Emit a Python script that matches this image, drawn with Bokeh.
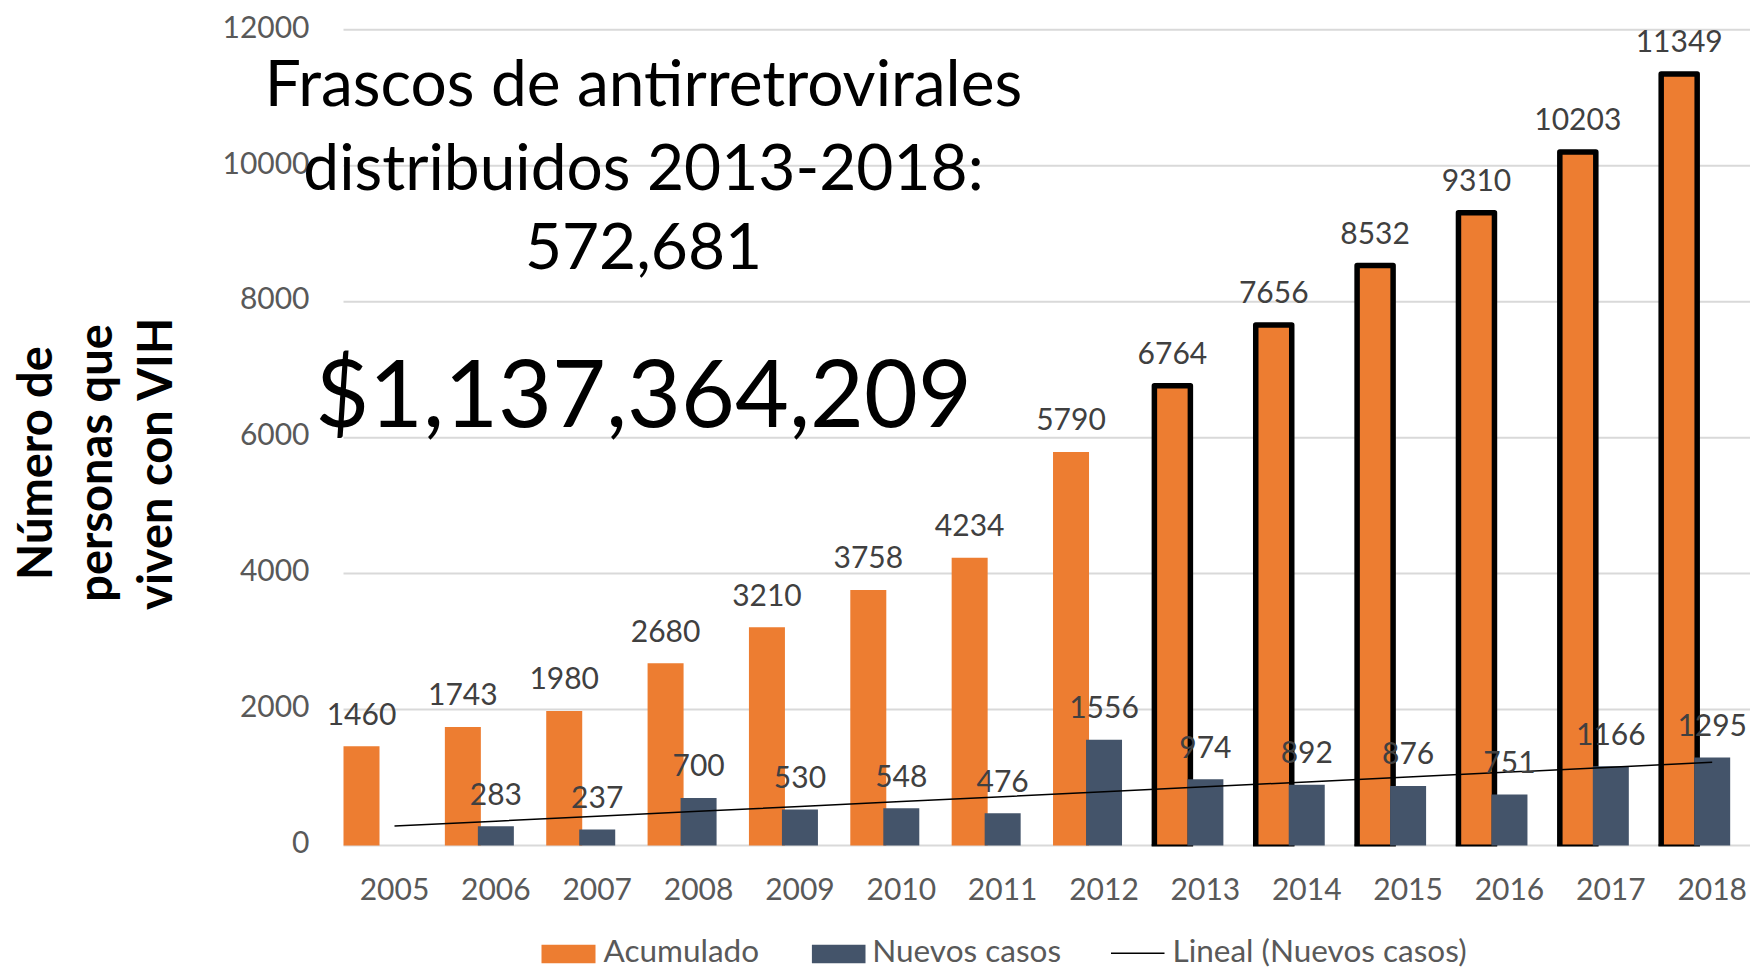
import numpy as np
from bokeh.plotting import figure
from bokeh.models import Range1d, ColumnDataSource
from bokeh.embed import file_html
from bokeh.resources import INLINE
from bokeh.core.properties import value

# ---------------- data ----------------
years = ["2005", "2006", "2007", "2008", "2009", "2010", "2011",
         "2012", "2013", "2014", "2015", "2016", "2017", "2018"]
acumulado = [1460, 1743, 1980, 2680, 3210, 3758, 4234,
             5790, 6764, 7656, 8532, 9310, 10203, 11349]
nuevos = [None, 283, 237, 700, 530, 548, 476,
          1556, 974, 892, 876, 751, 1166, 1295]
highlight_years = ["2013", "2014", "2015", "2016", "2017", "2018"]
y_ticks = [0, 2000, 4000, 6000, 8000, 10000, 12000]
series_names = ["Acumulado", "Nuevos casos", "Lineal (Nuevos casos)"]
title_lines = ["Frascos de antirretrovirales", "distribuidos 2013-2018:", "572,681"]
total_cost = "$1,137,364,209"
y_label_lines = ["Número de", "personas que", "viven con VIH"]

# ---------------- style / geometry ----------------
ORANGE = "#ED7D31"
NAVY = "#44546A"
GRID = "#D9D9D9"
TICK_C = "#595959"
DLAB_C = "#404040"
FONT = "Lato"
BASE_FIX = 0.387          # em shift between requested and drawn baseline
TICK_FS = 30
LEG_FS = 31.5

W, H = 1750, 971
PX_CAT = 101.36           # px per category
CAT0_SX = 394             # page x of first category centre
PY = 0.067975             # px per y unit
ZERO_SY = 845             # page y of value 0
X_START = -CAT0_SX / PX_CAT
X_END = X_START + W / PX_CAT
Y_END = ZERO_SY / PY
Y_START = -(H - ZERO_SY) / PY
PLOT_LEFT_SX = 343

ORANGE_OFF = -33 / PX_CAT
BAR_W = 36 / PX_CAT
OUTLINE_W = 5.5
LEG_SHIFT = -4            # keep legend text inside the page


def dx(sx):  # page x -> data x
    return X_START + sx / PX_CAT


def dy(sy):  # page y -> data y
    return (ZERO_SY - sy) / PY


def base(sy, size):  # anchor y for a wanted baseline at page y
    return dy(sy - BASE_FIX * size)


idx = np.arange(len(years), dtype=float)
acu = np.array(acumulado, dtype=float)
nue = np.array([np.nan if v is None else v for v in nuevos], dtype=float)
hl = np.array([y in highlight_years for y in years])

p = figure(width=W, height=H, output_backend="svg", toolbar_location=None,
           x_range=Range1d(X_START, X_END), y_range=Range1d(Y_START, Y_END),
           x_axis_location=None, y_axis_location=None,
           min_border=0)
p.outline_line_color = None
p.background_fill_color = "white"
p.border_fill_color = "white"
p.grid.visible = False

# horizontal grid lines (from the tick list)
nt = len(y_ticks)
p.segment(x0=[dx(PLOT_LEFT_SX)] * nt, y0=y_ticks, x1=[X_END] * nt, y1=y_ticks,
          line_color=GRID, line_width=2)

# y tick labels
p.text(x=[dx(309)] * nt, y=y_ticks, text=[str(t) for t in y_ticks],
       y_offset=8.4 - BASE_FIX * TICK_FS, text_align="right",
       text_baseline="alphabetic", text_font=value(FONT), text_font_size=f"{TICK_FS}px",
       text_color=TICK_C)

# x tick labels
p.text(x=idx, y=[base(900, TICK_FS)] * len(years), text=years, text_align="center",
       text_baseline="alphabetic", text_font=value(FONT), text_font_size=f"{TICK_FS}px",
       text_color=TICK_C)

# orange bars (plain)
plain = ~hl
src_plain = ColumnDataSource(dict(x=idx[plain] + ORANGE_OFF, top=acu[plain]))
p.vbar(x="x", top="top", bottom=0, width=BAR_W, source=src_plain,
       fill_color=ORANGE, line_color=None)

# orange bars (highlighted, thick black outline)
xh = idx[hl] + ORANGE_OFF
th = acu[hl]
src_hl = ColumnDataSource(dict(x=xh, top=th))
p.vbar(x="x", top="top", bottom=0, width=BAR_W, source=src_hl,
       fill_color=ORANGE, line_color=None)
half = BAR_W / 2
xs = [[x - half, x - half, x + half, x + half] for x in xh]
ys = [[0, t, t, 0] for t in th]
p.multi_line(xs=xs, ys=ys, line_color="black", line_width=OUTLINE_W, line_join="round")
ext = (OUTLINE_W / 2) / PX_CAT
p.segment(x0=xh - half - ext, y0=np.zeros_like(xh), x1=xh + half + ext, y1=np.zeros_like(xh),
          line_color="black", line_width=2)

# navy bars
ok = ~np.isnan(nue)
src_n = ColumnDataSource(dict(x=idx[ok], top=nue[ok]))
p.vbar(x="x", top="top", bottom=0, width=BAR_W, source=src_n,
       fill_color=NAVY, line_color=None)

# linear trend of new cases
coef = np.polyfit(idx[ok], nue[ok], 1)
trend = np.polyval(coef, idx)
p.line(idx, trend, line_color="black", line_width=1.5)

# data labels
LAB_OFF = -21 - BASE_FIX * TICK_FS
p.text(x=idx + ORANGE_OFF, y=acu, text=[str(int(v)) for v in acu], y_offset=LAB_OFF,
       text_align="center", text_baseline="alphabetic", text_font=value(FONT),
       text_font_size=f"{TICK_FS}px", text_color=DLAB_C)
p.text(x=idx[ok], y=nue[ok], text=[str(int(v)) for v in nue[ok]], y_offset=LAB_OFF,
       text_align="center", text_baseline="alphabetic", text_font=value(FONT),
       text_font_size=f"{TICK_FS}px", text_color=DLAB_C)

# big annotation texts
TS = 64
p.text(x=[dx(643)] * 3, y=[base(sy, TS) for sy in (106, 190, 270)], text=title_lines,
       text_align="center", text_baseline="alphabetic", text_font=value(FONT),
       text_font_size=f"{TS}px", text_color="black")
CS = 93
p.text(x=[dx(643)], y=[base(426, CS)], text=[total_cost],
       text_align="center", text_baseline="alphabetic", text_font=value(FONT),
       text_font_size=f"{CS}px", text_color="black")

# y axis title (three rotated lines; baseline on the right side)
YS = 47
p.text(x=[dx(sx - BASE_FIX * YS) for sx in (52, 112, 172)], y=[dy(462.5)] * 3,
       text=y_label_lines, angle=np.pi / 2, text_align="center",
       text_baseline="alphabetic", text_font=value(FONT), text_font_style="bold",
       text_font_size=f"{YS}px", text_color="black")

# legend (drawn by hand for exact placement)
p.quad(left=[dx(541), dx(811.4)], right=[dx(595), dx(865)],
       top=[dy(948.3 + LEG_SHIFT)] * 2, bottom=[dy(966.7 + LEG_SHIFT)] * 2,
       fill_color=[ORANGE, NAVY], line_color=None)
p.segment(x0=[dx(1110.5)], y0=[dy(956.7 + LEG_SHIFT)], x1=[dx(1164)], y1=[dy(956.7 + LEG_SHIFT)],
          line_color="black", line_width=1.5)
p.text(x=[dx(603), dx(871.7), dx(1172)], y=[base(966 + LEG_SHIFT, LEG_FS)] * 3,
       text=series_names, text_align="left", text_baseline="alphabetic",
       text_font=value(FONT), text_font_size=f"{LEG_FS}px", text_color=TICK_C)

open("out.html", "w").write(file_html(p, INLINE))
